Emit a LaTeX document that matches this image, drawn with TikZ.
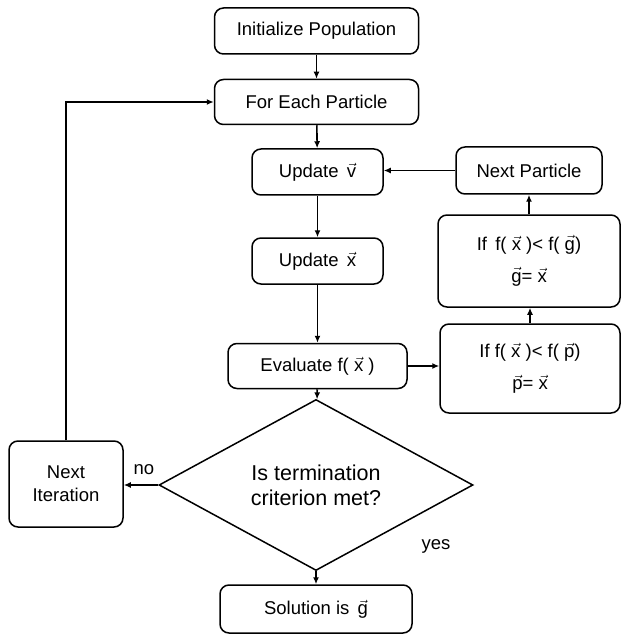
\documentclass[tikz,border=0pt]{standalone}
\usepackage{amsmath}
\usepackage{fontspec}
\setmainfont{Liberation Sans}
\usetikzlibrary{shapes.geometric,arrows.meta}
\newcommand\vl[1]{\ensuremath{\vec{\text{#1}}}}
\tikzset{
  box/.style={draw, line width=1.5pt, rounded corners=9pt, align=center, inner sep=0pt},
  arr/.style={draw, line width=1.6pt, -{Latex[length=7pt,width=6pt]}},
  lbl/.style={inner sep=0pt}
}
\begin{document}
\begin{tikzpicture}[x=1pt,y=-1pt,font=\fontsize{18.5}{23}\selectfont]
\useasboundingbox (0,0) rectangle (622,636);
\node[box, minimum width=204pt, minimum height=46pt] (init) at (316.5,31) {Initialize Population};
\node[box, minimum width=204pt, minimum height=45pt] (each) at (316.5,102) {For Each Particle};
\node[box, minimum width=131pt, minimum height=46pt] (updv) at (317.5,172) {Update \,\vl{v}};
\node[box, minimum width=131pt, minimum height=46pt] (updx) at (317.5,261) {Update \,\vl{x}};
\node[box, minimum width=179pt, minimum height=45pt] (eval) at (317.5,366) {Evaluate f( \vl{x} )};
\node[box, minimum width=146pt, minimum height=47pt] (nextp) at (529,170.5) {Next Particle};
\node[box, minimum width=182pt, minimum height=92pt] (ifg) at (529,261) {If \,f( \vl{x} )< f( \vl{g})\\[9pt] \vl{g}= \vl{x}};
\node[box, minimum width=180pt, minimum height=89pt] (ifp) at (530,368.5) {If f( \vl{x} )< f( \vl{p})\\[9pt] \vl{p}= \vl{x}};
\node[draw, line width=1.5pt, diamond, minimum width=314pt, minimum height=128pt, inner sep=0pt, align=center, font=\fontsize{21.5}{25}\selectfont] (dec) at (316,485) {Is termination\\criterion met?};
\node[box, minimum width=114pt, minimum height=86pt] (nextit) at (66,484) {Next\\Iteration};
\node[box, minimum width=192pt, minimum height=48pt] (sol) at (316,609) {Solution is \,\vl{g}};
\node[lbl] (no) at (144,470) {no};
\node[lbl] (yes) at (436,546) {yes};

\draw[arr] (init) -- (each);
\draw[arr] (each) -- (updv);
\draw[arr] (updv) -- (updx);
\draw[arr] (updx) -- (eval);
\draw[arr] (eval) -- (dec);
\draw[arr] (dec) -- (sol);
\draw[arr] (eval.east) -- (eval.east -| ifp.west);
\draw[arr] (ifp.north) -- (ifp.north |- ifg.south);
\draw[arr] (ifg.north -| nextp.south) -- (nextp.south);
\draw[arr] (nextp.west) -- (nextp.west -| updv.east);
\draw[arr] (dec.west) -- (dec.west -| nextit.east);
\draw[arr] (nextit.north) |- (each.west);
\end{tikzpicture}
\end{document}
